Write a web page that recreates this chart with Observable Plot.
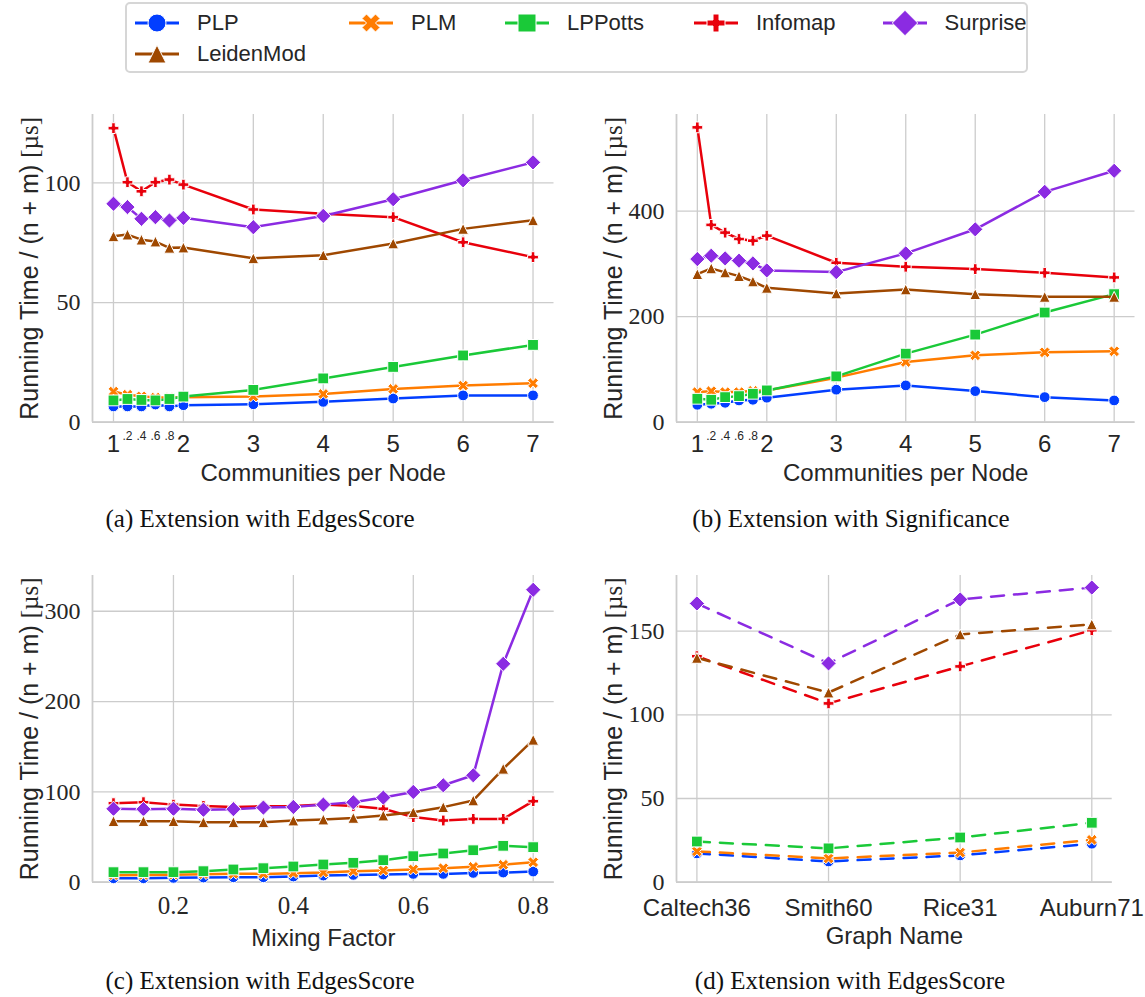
<!DOCTYPE html>
<html>
<head>
<meta charset="utf-8">
<script src="https://cdn.jsdelivr.net/npm/d3@7"></script>
<script src="https://cdn.jsdelivr.net/npm/@observablehq/plot@0.6"></script>
<style>
  body { margin: 0; background: #fff; }
  #fig { position: relative; width: 1145px; height: 997px; overflow: hidden; }
  .panel { position: absolute; }
  .caption { position: absolute; font-family: "Liberation Serif", serif; font-size: 25px; color: #111;
             white-space: nowrap; transform: translate(-50%, -50%); }
  #legend { position: absolute; left: 125px; top: 2px; width: 903px; height: 71px; border: 2px solid #d6d6d6;
            border-radius: 5px; box-sizing: border-box; background: #fff; }
  .entry { position: absolute; display: flex; align-items: center; font-family: "Liberation Sans", sans-serif;
           font-size: 22px; color: #262626; transform: translateY(-50%); white-space: nowrap; }
  .entry svg { margin-right: 16px; }
</style>
</head>
<body>
<div id="fig"></div>
<script>
// ---- series ----
const series = ["PLP", "PLM", "LPPotts", "Infomap", "Surprise", "LeidenMod"];
const colors = ["#023eff", "#ff7c00", "#1ac938", "#e8000b", "#8b2be2", "#9f4800"];
const markers = ["circle", "x", "square", "plus", "diamond", "triangle"];

// ---- (a) Extension with EdgesScore, communities per node ----
const communitiesPerNode = [1, 1.2, 1.4, 1.6, 1.8, 2, 3, 4, 5, 6, 7];
const aPLP       = [6.6, 6.6, 6.6, 7.4, 6.6, 7.1, 7.5, 8.5, 9.9, 11.2, 11.2];
const aPLM       = [12.8, 11.5, 10.8, 10.3, 10.3, 10.4, 10.7, 11.8, 13.9, 15.3, 16.3];
const aLPPotts   = [9.1, 9.7, 9.3, 9.1, 9.7, 10.7, 13.5, 18.3, 23.1, 27.9, 32.3];
const aInfomap   = [122.9, 100.3, 96.5, 100.3, 101.4, 99.3, 88.9, 87.1, 85.7, 75.2, 69.0];
const aSurprise  = [91.3, 89.9, 85.0, 85.7, 84.3, 85.4, 81.5, 86.2, 93.2, 101.1, 108.6];
const aLeidenMod = [77.7, 78.4, 76.3, 75.5, 72.9, 73.0, 68.5, 69.8, 74.7, 80.8, 84.4];

// ---- (b) Extension with Significance, communities per node ----
const bPLP       = [33.0, 35.0, 36.8, 41.2, 42.5, 46.4, 61.6, 69.7, 58.9, 47.5, 41.2];
const bPLM       = [57.0, 58.8, 57.0, 57.0, 59.5, 60.0, 84.4, 114.0, 126.7, 132.4, 134.3];
const bLPPotts   = [44.4, 42.5, 47.5, 49.4, 53.9, 60.2, 86.8, 129.9, 166.0, 207.8, 242.6];
const bInfomap   = [558.6, 373.8, 359.2, 347.1, 343.9, 353.4, 302.1, 294.5, 290.1, 283.1, 274.3];
const bSurprise  = [309.1, 315.4, 310.4, 306.0, 300.9, 287.6, 284.4, 319.9, 365.5, 436.4, 476.3];
const bLeidenMod = [280.6, 291.4, 283.8, 276.8, 266.7, 254.6, 243.9, 251.5, 242.6, 237.5, 237.5];

// ---- (c) Extension with EdgesScore, mixing factor ----
const mixingFactor = [0.1, 0.15, 0.2, 0.25, 0.3, 0.35, 0.4, 0.45, 0.5, 0.55, 0.6, 0.65, 0.7, 0.75, 0.8];
const cPLP       = [4.4, 4.4, 4.8, 5.2, 5.5, 5.5, 6.3, 7.4, 8.1, 8.5, 9.2, 9.2, 10.3, 10.7, 11.8];
const cPLM       = [7.8, 8.0, 8.3, 8.9, 9.3, 9.2, 10.0, 10.7, 12.2, 13.0, 14.1, 15.5, 17.0, 19.3, 22.1];
const cLPPotts   = [11.1, 11.1, 11.1, 12.2, 14.1, 15.5, 17.4, 19.6, 21.5, 24.4, 28.8, 31.8, 35.4, 40.3, 38.8];
const cInfomap   = [87.5, 88.6, 85.9, 84.4, 83.3, 84.1, 84.4, 85.9, 84.4, 81.3, 72.1, 68.3, 70.1, 70.1, 89.7];
const cSurprise  = [81.3, 80.9, 81.3, 80.2, 80.9, 82.6, 83.3, 85.9, 88.5, 93.7, 99.9, 107.3, 118.4, 241.8, 323.8];
const cLeidenMod = [67.6, 67.6, 67.6, 66.4, 66.4, 66.4, 68.3, 69.4, 71.2, 73.8, 77.5, 83.1, 90.5, 125.6, 157.7];

// ---- (d) Extension with EdgesScore, real graphs ----
const graphNames = ["Caltech36", "Smith60", "Rice31", "Auburn71"];
const dPLP       = [17.2, 12.4, 16.0, 23.0];
const dPLM       = [18.4, 14.2, 17.7, 25.3];
const dLPPotts   = [24.3, 20.2, 26.7, 35.5];
const dInfomap   = [135.0, 106.8, 128.9, 150.5];
const dSurprise  = [166.5, 130.7, 168.9, 176.0];
const dLeidenMod = [134.0, 113.3, 148.0, 154.0];

// ---- ticks ----
const cpnTicks = [1, 2, 3, 4, 5, 6, 7];
const cpnMinorTicks = [1.2, 1.4, 1.6, 1.8];
const mixingTicks = [0.2, 0.4, 0.6, 0.8];
const aYTicks = [0, 50, 100];
const bYTicks = [0, 200, 400];
const cYTicks = [0, 100, 200, 300];
const dYTicks = [0, 50, 100, 150];

const SERIF = "Liberation Serif";
const SANS = "Liberation Sans";
const GRID = "#cccccc";
const TEXT = "#262626";
const Y_LABEL = "Running Time / (n + m) [µs]";

// matplotlib-like filled markers; m is the marker's nominal width
const PLUS = [[-1,-3],[1,-3],[1,-1],[3,-1],[3,1],[1,1],[1,3],[-1,3],[-1,1],[-3,1],[-3,-1],[-1,-1]];
const XSHAPE = [[-1,-2],[0,-1],[1,-2],[2,-1],[1,0],[2,1],[1,2],[0,1],[-1,2],[-2,1],[-1,0],[-2,-1]];
function poly(ctx, pts, s) {
  pts.forEach(([px, py], i) => i ? ctx.lineTo(px * s, py * s) : ctx.moveTo(px * s, py * s));
  ctx.closePath();
}
function symbolOf(kind) {
  return {
    draw(ctx, size) {
      const m = 2 * Math.sqrt(size / Math.PI), h = m / 2;
      if (kind === "circle") { ctx.moveTo(h, 0); ctx.arc(0, 0, h, 0, 2 * Math.PI); }
      else if (kind === "square") { ctx.rect(-h, -h, m, m); }
      else if (kind === "diamond") { const d = h * Math.SQRT2; ctx.moveTo(0, -d); ctx.lineTo(d, 0); ctx.lineTo(0, d); ctx.lineTo(-d, 0); ctx.closePath(); }
      else if (kind === "triangle") { ctx.moveTo(0, -h); ctx.lineTo(h, h); ctx.lineTo(-h, h); ctx.closePath(); }
      else if (kind === "plus") { poly(ctx, PLUS, m / 6); }
      else if (kind === "x") { poly(ctx, XSHAPE, m / 4); }
    }
  };
}
const symbols = markers.map(symbolOf);

function seriesMarks(xs, valueLists, dashed) {
  const marks = [];
  valueLists.forEach((vals, s) => {
    const rows = xs.map((x, i) => ({x, y: vals[i], name: series[s]}));
    marks.push(Plot.line(rows, {x: "x", y: "y", stroke: colors[s], strokeWidth: 2.5,
      strokeDasharray: dashed ? "13,10" : null}));
    marks.push(Plot.dot(rows, {x: "x", y: "y", fill: colors[s], stroke: "white", strokeWidth: 1,
      r: 5.4, symbol: symbols[s]}));
  });
  return marks;
}

function fixYLabel(svg) {
  d3.select(svg).selectAll("text").each(function () {
    if (this.textContent.includes("Running Time")) {
      const t = d3.select(this);
      t.text(null).attr("font-size", 25);
      t.append("tspan").attr("font-family", SANS).text("Running Time / (n + m) ");
      t.append("tspan").attr("font-family", SERIF).text("[µs]");
    }
  });
}

function addPanel(cfg) {
  const marks = [
    Plot.gridX({ticks: cfg.gridX, stroke: GRID, strokeOpacity: 1, strokeWidth: 1.3}),
    Plot.gridY({ticks: cfg.yTicks, stroke: GRID, strokeOpacity: 1, strokeWidth: 1.3}),
    Plot.ruleY([cfg.yDomain[0]], {stroke: GRID, strokeWidth: 1.8}),
    Plot.ruleX([cfg.xDomain[0]], {stroke: GRID, strokeWidth: 1.8}),
    Plot.axisY({ticks: cfg.yTicks, tickSize: 0, tickPadding: 12, fontSize: 24, fontFamily: SERIF,
      label: Y_LABEL, labelAnchor: "center", labelOffset: 72, labelArrow: "none"}),
    Plot.axisX({ticks: cfg.xTicks, tickFormat: cfg.xFormat, tickSize: 0, tickPadding: cfg.xPad,
      fontSize: cfg.xFontSize, fontFamily: cfg.xFont,
      label: null})
  ];
  if (cfg.minor) {
    marks.push(Plot.axisX({ticks: cfg.minor, tickFormat: d => "." + Math.round((d % 1) * 10),
      tickSize: 0, tickPadding: 9, fontSize: 12, fontFamily: SANS, label: null}));
  }
  marks.push(Plot.axisX({ticks: [], label: cfg.xLabel, labelAnchor: "center", labelOffset: cfg.xLabelOffset,
    labelArrow: "none", fontSize: 24, fontFamily: SANS}));
  marks.push(...seriesMarks(cfg.xs, cfg.values, cfg.dashed));

  const svg = Plot.plot({
    width: cfg.width, height: cfg.height,
    marginLeft: cfg.margin[3], marginRight: cfg.margin[1], marginTop: cfg.margin[0], marginBottom: cfg.margin[2],
    x: {type: "linear", domain: cfg.xDomain},
    y: {type: "linear", domain: cfg.yDomain},
    style: {fontFamily: SERIF, color: TEXT, background: "transparent", overflow: "visible"},
    marks
  });
  fixYLabel(svg);
  const holder = document.createElement("div");
  holder.className = "panel";
  holder.style.left = cfg.left + "px";
  holder.style.top = cfg.top + "px";
  holder.appendChild(svg);
  document.getElementById("fig").appendChild(holder);

  const cap = document.createElement("div");
  cap.className = "caption";
  cap.style.left = cfg.capX + "px";
  cap.style.top = cfg.capY + "px";
  cap.textContent = cfg.caption;
  document.getElementById("fig").appendChild(cap);
}

const fmtInt = d => String(d);

addPanel({
  left: 0, top: 90, width: 560, height: 420, margin: [24, 6.5, 88.3, 92],
  xs: communitiesPerNode, values: [aPLP, aPLM, aLPPotts, aInfomap, aSurprise, aLeidenMod],
  xDomain: [0.7, 7.3], yDomain: [0, 128.6], yTicks: aYTicks, gridX: cpnTicks,
  xTicks: cpnTicks, xFormat: fmtInt, xFont: SANS, xFontSize: 24, xPad: 13, minor: cpnMinorTicks,
  xLabel: "Communities per Node", xLabelOffset: 59,
  caption: "(a) Extension with EdgesScore", capX: 260, capY: 519
});
addPanel({
  left: 580, top: 90, width: 565, height: 420, margin: [24, 10.5, 88.3, 96],
  xs: communitiesPerNode, values: [bPLP, bPLM, bLPPotts, bInfomap, bSurprise, bLeidenMod],
  xDomain: [0.7, 7.3], yDomain: [0, 583], yTicks: bYTicks, gridX: cpnTicks,
  xTicks: cpnTicks, xFormat: fmtInt, xFont: SANS, xFontSize: 24, xPad: 13, minor: cpnMinorTicks,
  xLabel: "Communities per Node", xLabelOffset: 59,
  caption: "(b) Extension with Significance", capX: 851, capY: 519
});
addPanel({
  left: 0, top: 555, width: 560, height: 430, margin: [20, 6.3, 103.3, 92],
  xs: mixingFactor, values: [cPLP, cPLM, cLPPotts, cInfomap, cSurprise, cLeidenMod],
  xDomain: [0.065, 0.835], yDomain: [0, 339.6], yTicks: cYTicks, gridX: mixingTicks,
  xTicks: mixingTicks, xFormat: d => d.toFixed(1), xFont: SERIF, xFontSize: 25, xPad: 14,
  xLabel: "Mixing Factor", xLabelOffset: 64,
  caption: "(c) Extension with EdgesScore", capX: 260, capY: 981
});
const graphIndex = graphNames.map((_, i) => i);
addPanel({
  left: 580, top: 555, width: 565, height: 430, margin: [20, 33.3, 103.3, 96],
  xs: graphIndex, values: [dPLP, dPLM, dLPPotts, dInfomap, dSurprise, dLeidenMod], dashed: true,
  xDomain: [-0.155, 3.155], yDomain: [0, 183.2], yTicks: dYTicks, gridX: graphIndex,
  xTicks: graphIndex, xFormat: i => graphNames[i], xFont: SANS, xFontSize: 24, xPad: 17,
  xLabel: "Graph Name", xLabelOffset: 62,
  caption: "(d) Extension with EdgesScore", capX: 850, capY: 981
});

// ---- shared legend ----
const legend = document.createElement("div");
legend.id = "legend";
document.getElementById("fig").appendChild(legend);
const legendSlots = [[0, 0], [1, 0], [2, 0], [3, 0], [4, 0], [0, 1]]; // [column, row] per series
const legendColumns = [6, 220, 376, 565, 753.6];
const legendRows = [18.5, 49.5];
series.forEach((name, s) => {
  const [c, r] = legendSlots[s];
  const entry = document.createElement("div");
  entry.className = "entry";
  entry.style.left = legendColumns[c] + "px";
  entry.style.top = legendRows[r] + "px";
  const p = d3.path();
  symbols[s].draw(p, Math.PI * 9 * 9);
  entry.innerHTML =
    `<svg width="48" height="30" viewBox="-24 -15 48 30">` +
    `<line x1="-22" x2="22" y1="0" y2="0" stroke="${colors[s]}" stroke-width="3"/>` +
    `<path d="${p.toString()}" fill="${colors[s]}" stroke="white" stroke-width="1"/></svg>` +
    `<span>${name}</span>`;
  legend.appendChild(entry);
});
</script>
</body>
</html>
